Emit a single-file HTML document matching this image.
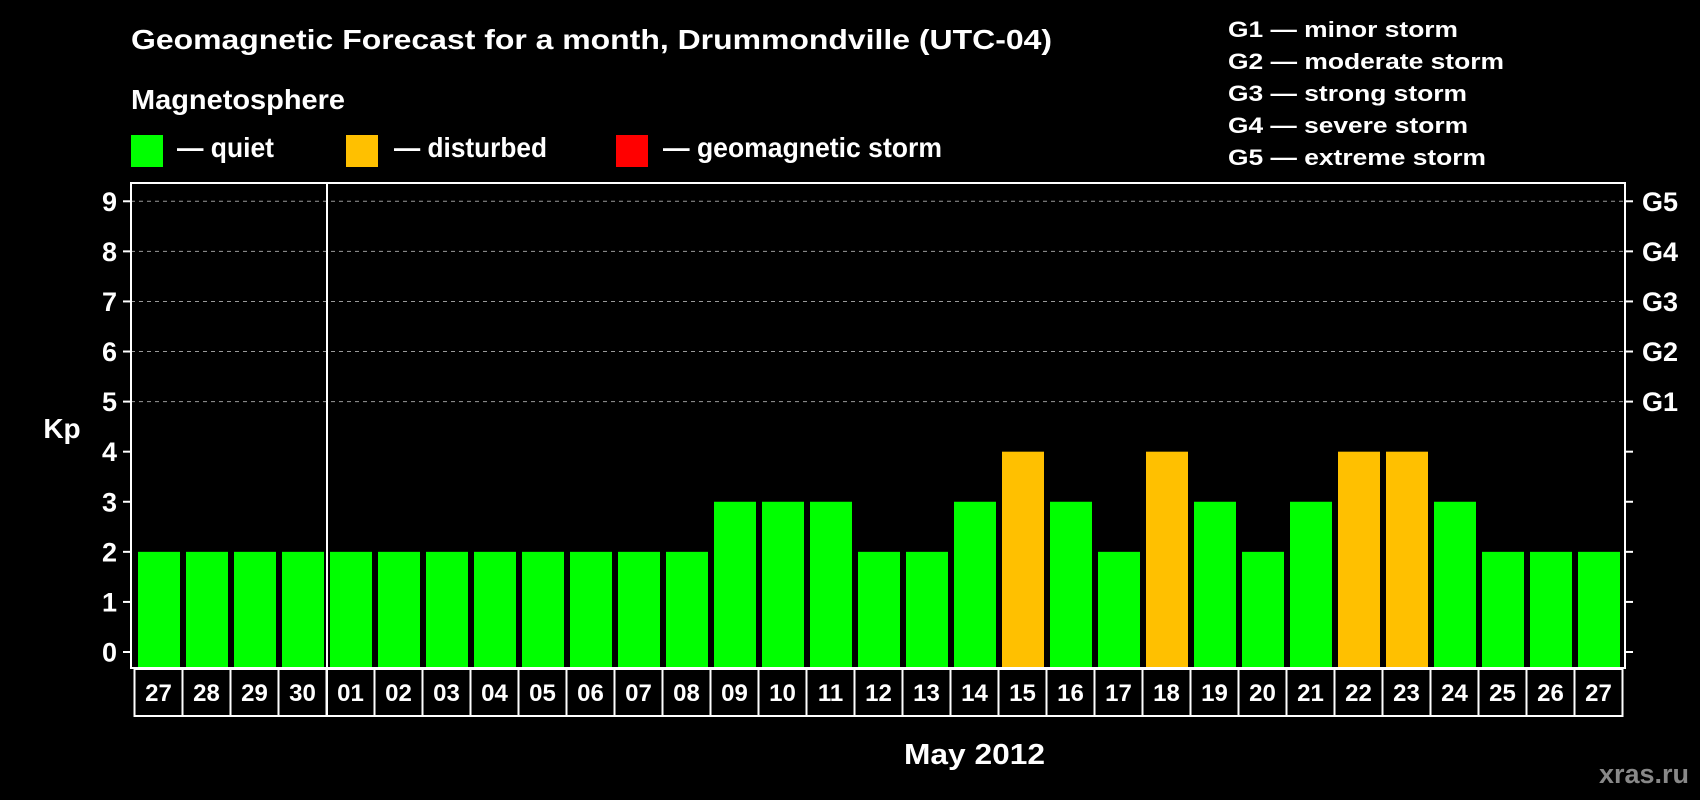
<!DOCTYPE html>
<html><head><meta charset="utf-8"><style>
html,body{margin:0;padding:0;background:#000;}
svg{display:block;font-family:"Liberation Sans",Arial,sans-serif;font-weight:bold;}
</style></head><body>
<svg id="chart" width="1700" height="800" viewBox="0 0 1700 800" xmlns="http://www.w3.org/2000/svg">
<rect x="0" y="0" width="1700" height="800" fill="#000"/>
<text x="131" y="49" fill="#fff" font-size="28" textLength="921" lengthAdjust="spacingAndGlyphs">Geomagnetic Forecast for a month, Drummondville (UTC-04)</text>
<text x="131" y="109" fill="#fff" font-size="28" textLength="214" lengthAdjust="spacingAndGlyphs">Magnetosphere</text>
<g>
<rect x="131" y="135" width="32" height="32" fill="#00ff00"/>
<text x="177" y="157" fill="#fff" font-size="28" textLength="97" lengthAdjust="spacingAndGlyphs">— quiet</text>
</g>
<g>
<rect x="346" y="135" width="32" height="32" fill="#ffc000"/>
<text x="394" y="157" fill="#fff" font-size="28" textLength="153" lengthAdjust="spacingAndGlyphs">— disturbed</text>
</g>
<g>
<rect x="616" y="135" width="32" height="32" fill="#ff0000"/>
<text x="663" y="157" fill="#fff" font-size="28" textLength="279" lengthAdjust="spacingAndGlyphs">— geomagnetic storm</text>
</g>
<g fill="#fff" font-size="22">
<text x="1228" y="37" textLength="230" lengthAdjust="spacingAndGlyphs">G1 — minor storm</text>
<text x="1228" y="69" textLength="276" lengthAdjust="spacingAndGlyphs">G2 — moderate storm</text>
<text x="1228" y="101" textLength="239" lengthAdjust="spacingAndGlyphs">G3 — strong storm</text>
<text x="1228" y="133" textLength="240" lengthAdjust="spacingAndGlyphs">G4 — severe storm</text>
<text x="1228" y="165" textLength="258" lengthAdjust="spacingAndGlyphs">G5 — extreme storm</text>
</g>
<g id="plot"></g>
<text x="62" y="438" fill="#fff" font-size="28" text-anchor="middle">Kp</text>
<text x="904" y="764" fill="#fff" font-size="29" textLength="141" lengthAdjust="spacingAndGlyphs">May 2012</text>
<text x="1599" y="783" fill="#888" font-size="27" textLength="90" lengthAdjust="spacingAndGlyphs">xras.ru</text>
</svg>
<script>
const days = ["27","28","29","30","01","02","03","04","05","06","07","08","09","10","11","12","13","14","15","16","17","18","19","20","21","22","23","24","25","26","27"];
const kpValues = [2,2,2,2,2,2,2,2,2,2,2,2,3,3,3,2,2,3,4,3,2,4,3,2,3,4,4,3,2,2,2];
const yTicks = [0,1,2,3,4,5,6,7,8,9];
const gLabels = ["G1","G2","G3","G4","G5"];

const NS = "http://www.w3.org/2000/svg";
const plotG = document.getElementById("plot");
const PL = 131, PR = 1625, PT = 183, PB = 668;
const Y0 = 652, UNIT = 50.08;
const FIRST_X = 138, PITCH = 48, BAR_W = 42;
function yScale(v){ return Y0 - v*UNIT; }
function xScale(i){ return FIRST_X + i*PITCH; }
function mk(tag, attrs){ const e = document.createElementNS(NS, tag); for (const k in attrs) e.setAttribute(k, attrs[k]); plotG.appendChild(e); return e; }
function barColor(v){ return v >= 5 ? "#ff0000" : (v >= 4 ? "#ffc000" : "#00ff00"); }

yTicks.forEach(t => {
  if (t >= 5) {
    const g = mk("line", {x1:PL, x2:PR, y1:yScale(t), y2:yScale(t), stroke:"#999", "stroke-width":1, "stroke-dasharray":"4,4"});
    
    
  }
});
kpValues.forEach((v, i) => {
  const r = mk("rect", {x:xScale(i), y:yScale(v), width:BAR_W, height:PB - yScale(v), fill:barColor(v)});
  
  
});
const frame = mk("rect", {x:PL, y:PT, width:PR-PL, height:PB-PT, fill:"none", stroke:"#fff", "stroke-width":2});


yTicks.forEach(t => {
  const y = yScale(t);
  const l1 = mk("line", {x1:PL-8, x2:PL, y1:y, y2:y, stroke:"#fff", "stroke-width":2});
  
  
  const l2 = mk("line", {x1:PR, x2:PR+8, y1:y, y2:y, stroke:"#fff", "stroke-width":2});
  
  
  const tx = mk("text", {x:117, y:y+9.5, fill:"#fff", "font-size":27, "text-anchor":"end"});
  tx.textContent = t;
  
  
});
gLabels.forEach((g, i) => {
  const tx = mk("text", {x:1642, y:yScale(5+i)+9.5, fill:"#fff", "font-size":27});
  tx.textContent = g;
  
  
});
days.forEach((d, i) => {
  const bx = 134.5 + i*PITCH;
  const r = mk("rect", {x:bx, y:669, width:PITCH, height:47, fill:"none", stroke:"#fff", "stroke-width":2});
  
  
  const tx = mk("text", {x:bx + PITCH/2, y:701, fill:"#fff", "font-size":24, "text-anchor":"middle"});
  tx.textContent = d;
  
  
});
const sep = mk("line", {x1:327, x2:327, y1:PT, y2:716, stroke:"#fff", "stroke-width":2});


</script>
</body></html>
